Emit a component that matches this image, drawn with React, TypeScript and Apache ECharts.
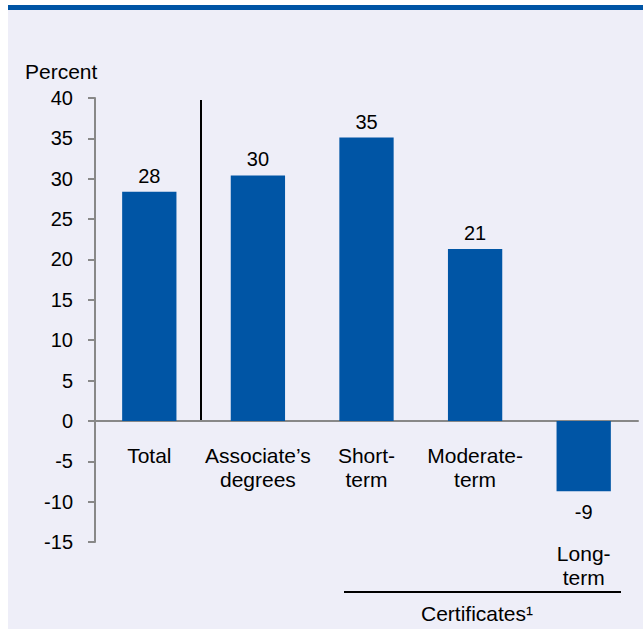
import React, { useEffect, useRef } from "react";
import * as echarts from "echarts";

const categories = ["Total", "Associate’s\ndegrees", "Short-\nterm", "Moderate-\nterm", "Long-\nterm"];
const values = [28.4, 30.4, 35.1, 21.3, -8.7];
const valueLabels = ["28", "30", "35", "21", "-9"];
const yMin = -15;
const yMax = 40;
const yInterval = 5;
const yAxisTitle = "Percent";
const groupTitle = "Certificates¹";

const FONT = '"Liberation Sans", Arial, Helvetica, sans-serif';
const BLUE = "#0055A5";
const BG = "#EEEEF8";
const FS = 20;
const FS_TEXT = 21;
const GRID_TOP = 88;
const GRID_BOTTOM = 87;
const CHART_H = 619;

export default function App() {
  const ref = useRef<HTMLDivElement>(null);
  useEffect(() => {
    if (!ref.current) return;
    const chart = echarts.init(ref.current, undefined, { renderer: "svg" });
    const gridH = CHART_H - GRID_TOP - GRID_BOTTOM;
    const zeroOffset = -Math.round(((0 - yMin) / (yMax - yMin)) * gridH);
    chart.setOption({
      animation: false,
      backgroundColor: BG,
      textStyle: { fontFamily: FONT },
      grid: {
        left: 87,
        right: 5,
        top: GRID_TOP,
        bottom: GRID_BOTTOM,
        containLabel: false,
        outerBoundsMode: "none",
      },
      xAxis: {
        type: "category",
        offset: zeroOffset,
        data: categories.map((c, i) =>
          i === categories.length - 1
            ? { value: c, textStyle: { padding: [98, 0, 0, 0] } }
            : c
        ),
        axisLine: { onZero: false, lineStyle: { color: "#888888", width: 2 } },
        axisTick: { show: false },
        axisLabel: {
          interval: 0,
          color: "#000",
          fontSize: FS_TEXT,
          lineHeight: 24,
          margin: 22,
          fontFamily: FONT,
        },
        splitLine: { show: false },
      },
      yAxis: {
        type: "value",
        min: yMin,
        max: yMax,
        interval: yInterval,
        axisLine: { show: true, lineStyle: { color: "#888888", width: 2 } },
        axisTick: { show: true, length: 7, lineStyle: { color: "#888888", width: 2 } },
        axisLabel: { color: "#000", fontSize: FS, margin: 22, fontFamily: FONT },
        splitLine: { show: false },
      },
      series: [
        {
          type: "bar",
          barWidth: "50%",
          data: values.map((v, i) => ({
            value: v,
            label: {
              show: true,
              position: v < 0 ? "bottom" : "top",
              distance: v < 0 ? 11 : 6,
              formatter: () => valueLabels[i],
              color: "#000",
              fontSize: FS,
              fontFamily: FONT,
            },
          })),
          itemStyle: { color: BLUE },
        },
      ],
      graphic: [
        {
          type: "text",
          left: 17,
          top: 51,
          style: { text: yAxisTitle, fontSize: FS_TEXT, fill: "#000", fontFamily: FONT },
        },
        {
          type: "line",
          shape: { x1: 193, y1: 90, x2: 193, y2: 410 },
          style: { stroke: "#000", lineWidth: 2 },
        },
        {
          type: "line",
          shape: { x1: 336, y1: 582, x2: 613, y2: 582 },
          style: { stroke: "#000", lineWidth: 2 },
        },
        {
          type: "text",
          x: 469,
          y: 603,
          style: {
            text: groupTitle,
            fontSize: FS_TEXT,
            fill: "#000",
            fontFamily: FONT,
            align: "center",
            verticalAlign: "middle",
          },
        },
      ],
    });
    return () => chart.dispose();
  }, []);
  return (
    <div style={{ position: "absolute", left: 8, top: 5, width: 635, height: 624 }}>
      <div style={{ height: 5, background: BLUE }} />
      <div ref={ref} style={{ width: 635, height: 619, background: BG }} />
    </div>
  );
}
